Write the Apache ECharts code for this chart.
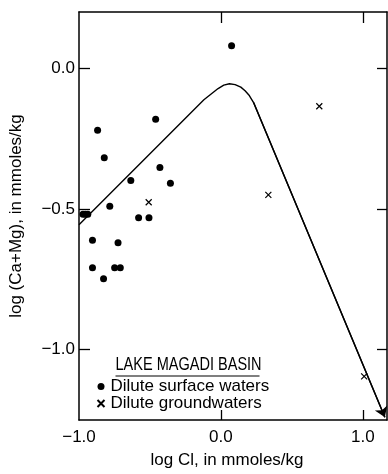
<!DOCTYPE html>
<html>
<head>
<meta charset="utf-8">
<script src="https://cdn.jsdelivr.net/npm/echarts@6/dist/echarts.min.js"></script>
<style>
  html, body { margin: 0; padding: 0; background: #fff; }
  #chart { width: 388px; height: 474px; }
</style>
</head>
<body>
<div id="chart"></div>
<script>
// Lake Magadi basin: log Cl vs log (Ca+Mg), both in mmoles/kg

// Dilute surface waters (filled dots)
const surfaceX = [0.075, -0.460, -0.869, -0.822, -0.430, -0.635, -0.356, -0.783, -0.580, -0.507,
                  -0.905, -0.725, -0.905, -0.749, -0.709, -0.827, -0.972, -0.955, -0.938];
const surfaceY = [0.080, -0.181, -0.220, -0.318, -0.353, -0.399, -0.409, -0.490, -0.531, -0.531,
                  -0.611, -0.620, -0.709, -0.709, -0.709, -0.748, -0.519, -0.519, -0.519];

// Dilute groundwaters (crosses)
const groundX = [0.693, -0.509, 0.334, 1.009];
const groundY = [-0.135, -0.476, -0.450, -1.095];

// Evaporation path curve, ending in an arrow
const curveX = [-1.0, -0.12, -0.06, -0.02, 0.02, 0.06, 0.10, 0.14, 0.17, 0.20, 0.23, 1.155];
const curveY = [-0.556, -0.112, -0.088, -0.072, -0.060, -0.055, -0.058, -0.067, -0.080, -0.097, -0.122, -1.240];

// Tick values
const xTicks = [-1.0, 0.0, 1.0];
const yTicks = [-1.0, -0.5, 0.0];

const FONT = "'Liberation Sans', Arial, Helvetica, sans-serif";
const CROSS = 'path://M0,0L10,10M10,0L0,10';

const zip = (xs, ys) => xs.map((x, i) => [x, ys[i]]);
const fmt = v => (v < 0 ? '\u2212' : '') + Math.abs(v).toFixed(1);

const axisLine = { show: true, onZero: false, lineStyle: { color: '#000', width: 1.5 } };
const tickStyle = { color: '#000', width: 1.3 };

const chart = echarts.init(document.getElementById('chart'), null, { renderer: 'canvas' });

const n = curveX.length;

chart.setOption({
  animation: false,
  backgroundColor: '#fff',
  textStyle: { fontFamily: FONT, color: '#000' },
  grid: { left: 73, top: 12, width: 314, height: 415, containLabel: false },
  // Legend heading: condensed, underlined caption
  graphic: [{
    type: 'group',
    left: 113, top: 356,
    children: [{
      type: 'text',
      x: 0, y: 0,
      scaleX: 0.83,
      style: { text: 'LAKE MAGADI BASIN', fontFamily: FONT, fontSize: 17.5, fill: '#000',
               verticalAlign: 'top', align: 'left' }
    }, {
      type: 'line',
      shape: { x1: 0, y1: 20, x2: 144, y2: 20 },
      style: { stroke: '#000', lineWidth: 1.2 }
    }]
  }],
  legend: {
    orient: 'vertical',
    left: 95, top: 378, padding: 0,
    itemGap: 0, itemWidth: 7, itemHeight: 7,
    textStyle: { fontFamily: FONT, fontSize: 17, color: '#000', padding: [0, 0, 0, 1], lineHeight: 16.5 },
    data: [
      { name: 'Dilute surface waters', icon: 'circle' },
      { name: 'Dilute groundwaters', icon: CROSS }
    ]
  },
  xAxis: [{
    type: 'value', position: 'bottom', min: -1.0, max: 1.17,
    axisLine: axisLine,
    axisTick: { show: true, inside: true, length: 10, customValues: [0, 1], lineStyle: tickStyle },
    axisLabel: { customValues: xTicks, formatter: fmt, fontSize: 17, color: '#000', margin: 9, fontFamily: FONT },
    splitLine: { show: false },
    name: 'log Cl, in mmoles/kg', nameLocation: 'middle', nameGap: 32,
    nameTextStyle: { fontSize: 17, color: '#000', fontFamily: FONT, padding: [0, 12, 0, 0] }
  }, {
    type: 'value', position: 'top', min: -1.0, max: 1.17,
    axisLine: axisLine,
    axisTick: { show: true, inside: true, length: 11, customValues: [0, 1], lineStyle: tickStyle },
    axisLabel: { show: false },
    splitLine: { show: false }
  }],
  yAxis: [{
    type: 'value', position: 'left', min: -1.25, max: 0.2,
    axisLine: axisLine,
    axisTick: { show: true, inside: true, length: 11, customValues: yTicks, lineStyle: tickStyle },
    axisLabel: { customValues: yTicks, formatter: fmt, fontSize: 17, color: '#000', margin: 4, fontFamily: FONT },
    splitLine: { show: false },
    name: 'log (Ca+Mg), in mmoles/kg', nameLocation: 'middle', nameGap: 54,
    nameTextStyle: { fontSize: 17, color: '#000', fontFamily: FONT }
  }, {
    type: 'value', position: 'right', min: -1.25, max: 0.2,
    axisLine: axisLine,
    axisTick: { show: true, inside: true, length: 10, customValues: yTicks, lineStyle: tickStyle },
    axisLabel: { show: false },
    splitLine: { show: false }
  }],
  series: [{
    type: 'line',
    silent: true,
    data: zip(curveX, curveY),
    showSymbol: false,
    symbol: 'none',
    lineStyle: { color: '#000', width: 1.4 },
    z: 1
  }, {
    type: 'lines',
    coordinateSystem: 'cartesian2d',
    silent: true,
    clip: false,
    data: [{ coords: [[curveX[n - 2], curveY[n - 2]], [curveX[n - 1], curveY[n - 1]]] }],
    symbol: ['none', 'arrow'],
    symbolSize: 10,
    lineStyle: { color: '#000', width: 1.4, opacity: 1, curveness: 0 },
    z: 1
  }, {
    name: 'Dilute surface waters',
    type: 'scatter',
    data: zip(surfaceX, surfaceY),
    symbol: 'circle',
    symbolSize: 7,
    itemStyle: { color: '#000', opacity: 1 },
    z: 3
  }, {
    name: 'Dilute groundwaters',
    type: 'scatter',
    data: zip(groundX, groundY),
    symbol: CROSS,
    symbolSize: 6,
    itemStyle: { color: 'none', borderColor: '#000', borderWidth: 1.2, opacity: 1 },
    z: 3
  }]
});
</script>
</body>
</html>
